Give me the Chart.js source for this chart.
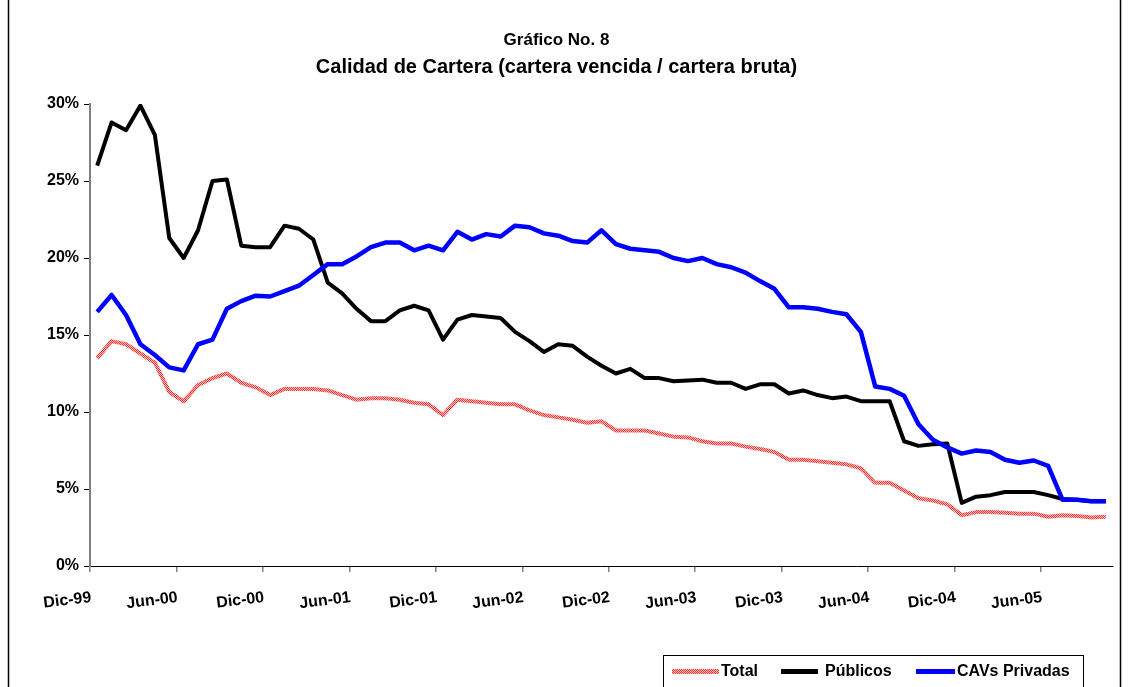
<!DOCTYPE html>
<html>
<head>
<meta charset="utf-8">
<script src="https://cdn.jsdelivr.net/npm/chart.js@4.4.1/dist/chart.umd.min.js"></script>
<style>
  html, body { margin: 0; padding: 0; background: #fff; }
  #wrap { position: relative; width: 1128px; height: 687px; }
  canvas { display: block; }
</style>
</head>
<body>
<div id="wrap"><canvas id="c" width="1128" height="687"></canvas></div>
<script>
const months = [
  'Dic-99','Ene-00','Feb-00','Mar-00','Abr-00','May-00','Jun-00','Jul-00','Ago-00','Sep-00','Oct-00','Nov-00',
  'Dic-00','Ene-01','Feb-01','Mar-01','Abr-01','May-01','Jun-01','Jul-01','Ago-01','Sep-01','Oct-01','Nov-01',
  'Dic-01','Ene-02','Feb-02','Mar-02','Abr-02','May-02','Jun-02','Jul-02','Ago-02','Sep-02','Oct-02','Nov-02',
  'Dic-02','Ene-03','Feb-03','Mar-03','Abr-03','May-03','Jun-03','Jul-03','Ago-03','Sep-03','Oct-03','Nov-03',
  'Dic-03','Ene-04','Feb-04','Mar-04','Abr-04','May-04','Jun-04','Jul-04','Ago-04','Sep-04','Oct-04','Nov-04',
  'Dic-04','Ene-05','Feb-05','Mar-05','Abr-05','May-05','Jun-05','Jul-05','Ago-05','Sep-05','Oct-05'
];

const total = [
  13.5, 14.6, 14.4, 13.8, 13.2, 11.3, 10.7, 11.75, 12.2, 12.5, 11.9, 11.6,
  11.1, 11.5, 11.5, 11.5, 11.4, 11.1, 10.8, 10.9, 10.9, 10.8, 10.6, 10.5,
  9.8, 10.8, 10.7, 10.6, 10.5, 10.5, 10.1, 9.8, 9.65, 9.5, 9.3, 9.4,
  8.8, 8.8, 8.8, 8.6, 8.4, 8.35, 8.1, 7.95, 7.95, 7.75, 7.6, 7.4,
  6.9, 6.9, 6.8, 6.7, 6.6, 6.35, 5.4, 5.4, 4.9, 4.4, 4.25, 4.0,
  3.3, 3.5, 3.5, 3.45, 3.4, 3.4, 3.2, 3.3, 3.25, 3.15, 3.2
];

const publicos = [
  26.0, 28.8, 28.3, 29.9, 28.0, 21.3, 20.0, 21.8, 25.0, 25.1, 20.8, 20.7,
  20.7, 22.1, 21.9, 21.2, 18.4, 17.7, 16.7, 15.9, 15.9, 16.6, 16.9, 16.6,
  14.7, 16.0, 16.3, 16.2, 16.1, 15.2, 14.6, 13.9, 14.4, 14.3, 13.6, 13.0,
  12.5, 12.8, 12.2, 12.2, 12.0, 12.05, 12.1, 11.9, 11.9, 11.5, 11.8, 11.8,
  11.2, 11.4, 11.1, 10.9, 11.0, 10.7, 10.7, 10.7, 8.1, 7.8, 7.9, 7.95,
  4.1, 4.5, 4.6, 4.8, 4.8, 4.8, 4.6, 4.35, 4.3, 4.2, 4.2
];

const cavsPrivadas = [
  16.5, 17.6, 16.3, 14.4, 13.7, 12.9, 12.7, 14.4, 14.7, 16.7, 17.2, 17.55,
  17.5, 17.85, 18.2, 18.9, 19.6, 19.6, 20.1, 20.7, 21.0, 21.0, 20.5, 20.8,
  20.5, 21.7, 21.2, 21.55, 21.4, 22.1, 22.0, 21.6, 21.45, 21.1, 21.0, 21.8,
  20.9, 20.6, 20.5, 20.4, 20.0, 19.8, 20.0, 19.6, 19.4, 19.05, 18.5, 18.0,
  16.8, 16.8, 16.7, 16.5, 16.35, 15.2, 11.65, 11.5, 11.06, 9.2, 8.2, 7.7,
  7.3, 7.5, 7.4, 6.9, 6.7, 6.85, 6.5, 4.3, 4.3, 4.2, 4.2
];

const seriesNames = ['Total', 'Públicos', 'CAVs Privadas'];
const titleText = 'Gráfico No. 8';
const subtitleText = 'Calidad de Cartera (cartera vencida / cartera bruta)';

const FONT = '"Liberation Sans", Arial, Helvetica, sans-serif';

// hatched red pattern for "Total"
const pc = document.createElement('canvas');
pc.width = 2; pc.height = 2;
const pctx = pc.getContext('2d');
pctx.fillStyle = '#ffc0c0'; pctx.fillRect(0, 0, 2, 2);
pctx.fillStyle = '#ff3030'; pctx.fillRect(0, 0, 1, 1); pctx.fillRect(1, 1, 1, 1);
const canvas = document.getElementById('c');
const ctx = canvas.getContext('2d');
const redPattern = ctx.createPattern(pc, 'repeat');

const framePlugin = {
  id: 'frame',
  beforeDraw(chart) {
    const c = chart.ctx;
    c.save();
    c.fillStyle = '#fff';
    c.fillRect(0, 0, chart.width, chart.height);
    c.strokeStyle = '#000';
    c.lineWidth = 1.5;
    c.beginPath();
    c.moveTo(8.5, 0); c.lineTo(8.5, chart.height);
    c.moveTo(1120.5, 0); c.lineTo(1120.5, chart.height);
    c.stroke();
    c.restore();
  },
  afterDraw(chart) {
    const c = chart.ctx;
    c.save();
    c.strokeStyle = '#000';
    c.lineWidth = 1;
    c.strokeRect(663.5, 655.5, 420, 60);
    const items = [
      { name: seriesNames[0], color: redPattern, x0: 672, x1: 719, tx: 721 },
      { name: seriesNames[1], color: '#000000', x0: 781, x1: 818, tx: 825 },
      { name: seriesNames[2], color: '#0000ff', x0: 916, x1: 955, tx: 957 }
    ];
    c.font = 'bold 16px ' + FONT;
    c.textBaseline = 'middle';
    c.textAlign = 'left';
    items.forEach(it => {
      c.fillStyle = it.color;
      c.fillRect(it.x0, 669, it.x1 - it.x0, 5);
      c.fillStyle = '#000';
      c.fillText(it.name, it.tx, 672);
    });
    c.restore();
  }
};

new Chart(canvas, {
  type: 'line',
  data: {
    labels: months,
    datasets: [
      { label: seriesNames[0], data: total, borderColor: redPattern, backgroundColor: redPattern, borderWidth: 4, order: 2 },
      { label: seriesNames[1], data: publicos, borderColor: '#000000', backgroundColor: '#000000', borderWidth: 4, order: 1 },
      { label: seriesNames[2], data: cavsPrivadas, borderColor: '#0000ff', backgroundColor: '#0000ff', borderWidth: 4.5, order: 0 }
    ]
  },
  options: {
    responsive: false,
    animation: false,
    devicePixelRatio: 1,
    layout: { padding: { left: 0, right: 15, top: 0, bottom: 0 } },
    elements: {
      point: { radius: 0, hoverRadius: 0 },
      line: { tension: 0, fill: false, borderJoinStyle: 'round', borderCapStyle: 'butt' }
    },
    plugins: {
      legend: { display: false },
      tooltip: { enabled: false },
      title: {
        display: true,
        text: titleText,
        color: '#000',
        font: { family: FONT, size: 17, weight: 'bold', lineHeight: 1.2 },
        padding: { top: 29.8, bottom: 0 }
      },
      subtitle: {
        display: true,
        text: subtitleText,
        color: '#000',
        font: { family: FONT, size: 20, weight: 'bold', lineHeight: 1.2 },
        padding: { top: 4.8, bottom: 25 }
      }
    },
    scales: {
      x: {
        type: 'category',
        offset: true,
        border: { display: true, color: '#000', width: 1 },
        grid: {
          display: true,
          offset: true,
          drawOnChartArea: false,
          drawTicks: true,
          tickLength: 6,
          color: (c) => (c.index % 6 === 0 ? '#808080' : 'rgba(0,0,0,0)'),
          lineWidth: 1.5
        },
        ticks: {
          autoSkip: false,
          maxRotation: 7,
          minRotation: 7,
          labelOffset: -6,
          padding: 16,
          color: '#000',
          font: { family: FONT, size: 16, weight: 'bold' },
          callback: function (v, i) { return i % 6 === 0 ? this.getLabelForValue(v) : ''; }
        },
        afterFit: (s) => { s.height = 121; }
      },
      y: {
        min: 0,
        max: 30,
        border: { display: true, color: '#808080', width: 2 },
        grid: {
          display: true,
          drawOnChartArea: false,
          drawTicks: true,
          tickLength: 6,
          color: '#000',
          lineWidth: 1
        },
        ticks: {
          stepSize: 5,
          padding: 5,
          color: '#000',
          font: { family: FONT, size: 16, weight: 'bold' },
          callback: (v) => v + '%'
        },
        afterFit: (s) => { s.width = 90; }
      }
    }
  },
  plugins: [framePlugin]
});
</script>
</body>
</html>
